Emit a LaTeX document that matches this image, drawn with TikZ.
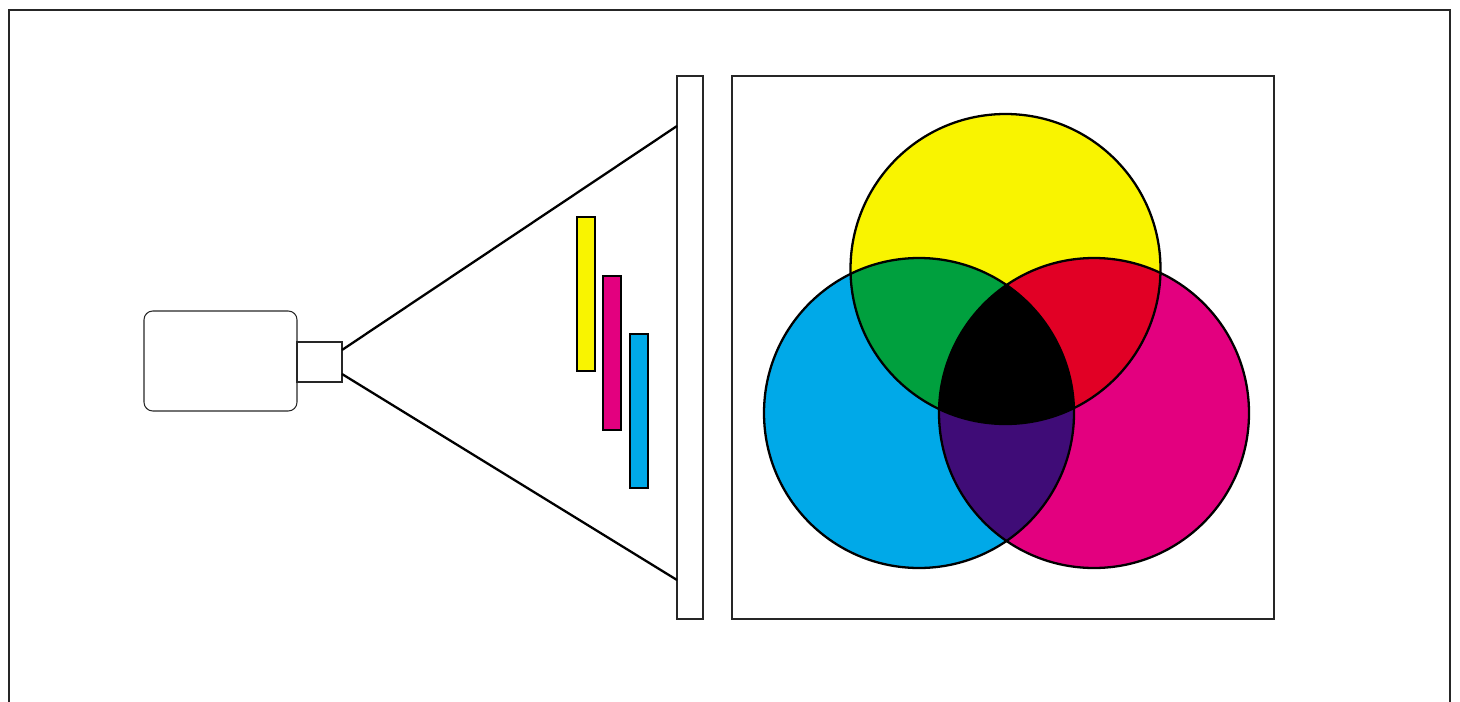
\documentclass[tikz,border=0pt]{standalone}
\definecolor{cmyY}{HTML}{F9F400}
\definecolor{cmyM}{HTML}{E3007F}
\definecolor{cmyC}{HTML}{00A9E8}
\definecolor{mixG}{HTML}{00A03E}
\definecolor{mixR}{HTML}{E10025}
\definecolor{mixV}{HTML}{3F0C77}
\begin{document}
\begin{tikzpicture}[x=0.02cm,y=0.02cm,
    thinline/.style={black!85,line width=0.6pt},
    thickline/.style={black,line width=1.3pt}]
  \useasboundingbox (0,0) rectangle (1460,701);
  % outer frame
  \draw[thinline] (9,-5)--(9,691)--(1450,691)--(1450,-5);
  % projector
  \coordinate (bodyA) at (144,290);
  \coordinate (bodyB) at (297,390);
  \coordinate (lensA) at (297,319);
  \coordinate (lensB) at (342,359);
  \draw[thinline,rounded corners=5pt] (bodyA) rectangle (bodyB);
  \draw[thinline] (lensA) rectangle (lensB);
  % screen and panel
  \coordinate (screenA) at (677,82);
  \coordinate (screenB) at (703,625);
  \coordinate (panelA) at (732,82);
  \coordinate (panelB) at (1274,625);
  \draw[thinline] (screenA) rectangle (screenB);
  \draw[thinline] (panelA) rectangle (panelB);
  % beam
  \coordinate (beamT) at (342,351);
  \coordinate (beamB) at (342,327);
  \coordinate (hitT) at (677,575);
  \coordinate (hitB) at (677,121);
  \draw[thickline] (beamT)--(hitT);
  \draw[thickline] (beamB)--(hitB);
  % filters
  \filldraw[cmyY,draw=black,line width=1.3pt] (577,330) rectangle (595,484);
  \filldraw[cmyM,draw=black,line width=1.3pt] (603,271) rectangle (621,425);
  \filldraw[cmyC,draw=black,line width=1.3pt] (630,213) rectangle (648,367);
  % subtractive mixing
  \coordinate (Y) at (1005.5,432);
  \coordinate (C) at (919,288);
  \coordinate (M) at (1094,288);
  \fill[cmyY] (Y) circle (155);
  \fill[cmyC] (C) circle (155);
  \fill[cmyM] (M) circle (155);
  \begin{scope}
    \clip (Y) circle (155);
    \fill[mixG] (C) circle (155);
    \fill[mixR] (M) circle (155);
  \end{scope}
  \begin{scope}
    \clip (C) circle (155);
    \fill[mixV] (M) circle (155);
    \clip (M) circle (155);
    \fill[black] (Y) circle (155);
  \end{scope}
  \draw[thickline] (Y) circle (155);
  \draw[thickline] (C) circle (155);
  \draw[thickline] (M) circle (155);
\end{tikzpicture}
\end{document}
